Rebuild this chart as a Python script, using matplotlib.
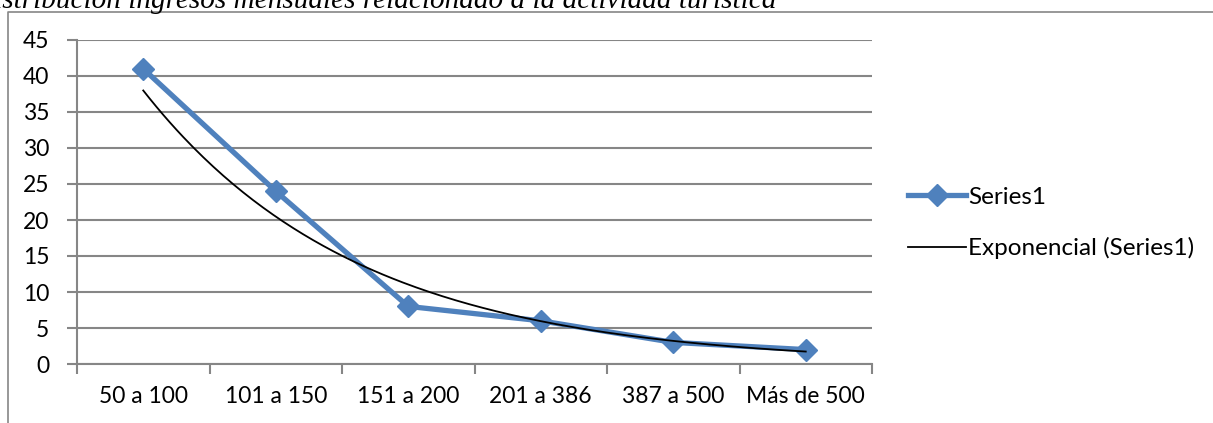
import numpy as np
import matplotlib
matplotlib.use("Agg")
from matplotlib import pyplot as plt
from matplotlib.lines import Line2D

categories = ["50 a 100", "101 a 150", "151 a 200", "201 a 386", "387 a 500", "Más de 500"]
values = [41, 24, 8, 6, 3, 2]
y_ticks = [0, 5, 10, 15, 20, 25, 30, 35, 40, 45]

grid_gray = "#868686"
blue = "#4F81BD"

fig = plt.figure(figsize=(12.13, 4.23), dpi=100)
ax = fig.add_axes([77 / 1213, 1 - 364 / 423, (872 - 77) / 1213, (364 - 40) / 423])

x = np.arange(1, len(values) + 1)

# exponential trendline (least squares on log values, like Excel)
b, ln_a = np.polyfit(x, np.log(values), 1)
xs = np.linspace(1, len(values), 200)
trend = np.exp(ln_a) * np.exp(b * xs)

ax.plot(x, values, color=blue, lw=3.8, marker="D", markersize=11, zorder=3)
ax.plot(xs, trend, color="black", lw=1.3, zorder=4)

ax.set_xlim(0.5, len(values) + 0.5)
ax.set_ylim(0, 45)
ax.set_yticks(y_ticks)
ax.yaxis.grid(True, color=grid_gray, lw=1.5)
ax.set_axisbelow(True)

ax.set_xticks(x)
ax.set_xticklabels(categories)
ax.set_xticks(np.arange(0.5, len(values) + 1), minor=True)
ax.tick_params(axis="x", which="major", length=0, pad=16)
ax.tick_params(axis="x", which="minor", length=7, color=grid_gray, width=1.5)
ax.tick_params(axis="y", length=7, color=grid_gray, width=1.5, pad=13)
for lab in ax.get_xticklabels() + ax.get_yticklabels():
    lab.set_fontfamily("Lato")
    lab.set_fontsize(16.5)

for s in ["top", "right"]:
    ax.spines[s].set_visible(False)
for s in ["left", "bottom"]:
    ax.spines[s].set_color(grid_gray)
    ax.spines[s].set_linewidth(1.5)

handles = [
    Line2D([], [], color=blue, lw=3.8, marker="D", markersize=11),
    Line2D([], [], color="black", lw=1.3),
]
fig.legend(handles, ["Series1", "Exponencial (Series1)"], loc="center left",
           bbox_to_anchor=(898 / 1213, 1 - 223 / 423), frameon=False,
           prop={"family": "Lato", "size": 17.5}, handlelength=2.4,
           handletextpad=0.1, labelspacing=1.2, borderaxespad=0)

# chart frame (partially cut off)
fig.add_artist(Line2D([8 / 1213, 8 / 1213, 1.0], [0, 1 - 12 / 423, 1 - 12 / 423],
                      transform=fig.transFigure, color=grid_gray, lw=1.2))

fig.text(777 / 1213, 1 - 8 / 423,
         "Distribución ingresos mensuales relacionado a la actividad turística",
         ha="right", va="baseline", family="Liberation Serif", style="italic",
         fontsize=21.1)

fig.savefig("out.png", dpi=100)
